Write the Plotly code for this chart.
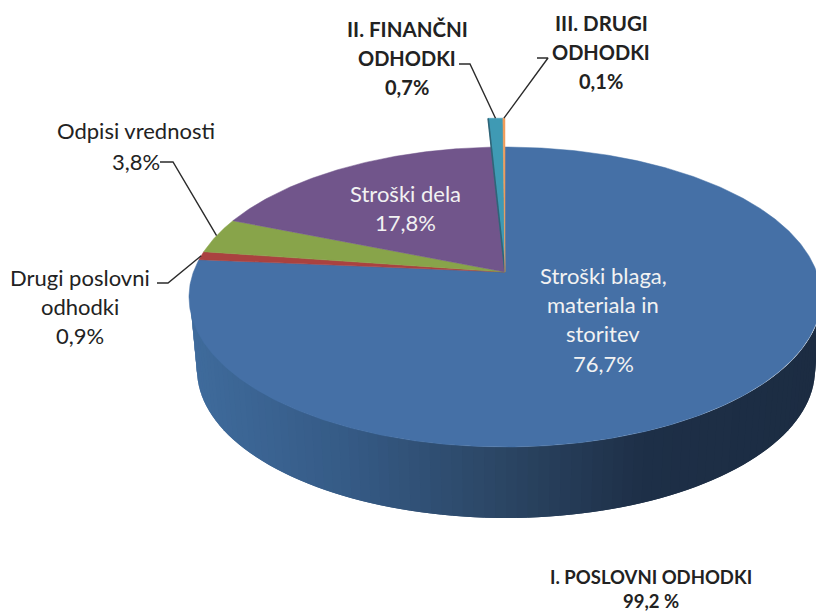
import math
import plotly.graph_objects as go

# ---- data (clockwise from 12 o'clock) ----
slice_names = ["Stroški blaga, materiala in storitev", "Drugi poslovni odhodki", "Odpisi vrednosti",
               "Stroški dela", "II. FINANČNI ODHODKI", "III. DRUGI ODHODKI"]
slice_values = [76.7, 0.9, 3.8, 17.8, 0.7, 0.1]
slice_colors = ["#4570A6", "#AA4240", "#88A44A", "#71558B", "#3F9AB4", "#F09C5A"]
slice_explode = [1.0, 1.0, 1.0, 1.0, 1.28, 1.28]
group_label = ["I. POSLOVNI ODHODKI", "99,2 %"]

# ---- projection of the tilted disc onto the 816x612 page ----
APEX_X, APEX_Y = 505.0, 272.0
K = 1 / 6
A, B = 311.6, 145.83
WARP = 1.2


def project(deg, r=1.0):
    t = math.radians(deg - WARP * abs(math.sin(math.radians(deg))))
    u, v = r * math.sin(t), -r * math.cos(t)
    w = 1 - K * v
    return APEX_X + A * u / w, APEX_Y + B * v / w


fig = go.Figure()

# side wall: shaded strips along the near rim
TOP = (506, 297, 316, 150)
BOT = (506, 370, 309, 148)
stops = [(0.0, (28, 44, 66)), (0.28, (29, 47, 71)), (0.5, (43, 69, 99)), (0.75, (53, 90, 133)), (1.0, (63, 107, 156))]


def shade(f):
    for (f0, c0), (f1, c1) in zip(stops, stops[1:]):
        if f <= f1:
            m = (f - f0) / (f1 - f0)
            return "rgb(%d,%d,%d)" % tuple(round(a + (b - a) * m) for a, b in zip(c0, c1))
    return "rgb(63,107,156)"


N = 90
for i in range(N):
    # each strip runs on under the next one so no seams show
    pts = [min(math.pi * (i + j / 4) / N, math.pi) for j in range(9)]
    xs = [TOP[0] + TOP[2] * math.cos(t) for t in pts] + [BOT[0] + BOT[2] * math.cos(t) for t in reversed(pts)]
    ys = [TOP[1] + TOP[3] * math.sin(t) for t in pts] + [BOT[1] + BOT[3] * math.sin(t) for t in reversed(pts)]
    xs.append(xs[0])
    ys.append(ys[0])
    mx = TOP[0] + TOP[2] * math.cos(math.pi * (i + 0.5) / N)
    col = shade(1 - (mx - 190) / 632)
    fig.add_trace(go.Scatter(x=xs, y=ys, mode="lines", fill="toself", fillcolor=col,
                             line=dict(width=0), hoverinfo="skip", showlegend=False))

# top faces, driven by the values
total = sum(slice_values)
cum = 0.0
mids = []
for name, val, col, ex in zip(slice_names, slice_values, slice_colors, slice_explode):
    a0 = cum / total * 360
    a1 = (cum + val) / total * 360
    cum += val
    n = max(2, int((a1 - a0) * 2))
    xs, ys = [APEX_X], [APEX_Y]
    for j in range(n + 1):
        x, y = project(a0 + (a1 - a0) * j / n, ex)
        xs.append(x)
        ys.append(y)
    xs.append(APEX_X)
    ys.append(APEX_Y)
    mids.append(project((a0 + a1) / 2, ex))
    fig.add_trace(go.Scatter(x=xs, y=ys, mode="lines", fill="toself", fillcolor=col, name=name,
                             line=dict(color=col, width=0.5), hoverinfo="name", showlegend=False))
    if name.startswith("II."):
        # darker cut face along the exploded slice's left edge
        ex0, ey0 = project(a0, ex)
        fig.add_trace(go.Scatter(x=[APEX_X, ex0], y=[APEX_Y, ey0], mode="lines",
                                 line=dict(color="#2F6478", width=1.6), hoverinfo="skip", showlegend=False))

# leader lines: elbow start, elbow end, then the slice's rim midpoint
leaders = {1: ((157, 283), (168, 283)), 2: ((160, 162), (173, 162)),
           4: ((459, 64), (470, 64)), 5: ((537, 58), (548, 58))}
for idx, (p0, p1) in leaders.items():
    fig.add_trace(go.Scatter(x=[p0[0], p1[0], mids[idx][0]], y=[p0[1], p1[1], mids[idx][1]], mode="lines",
                             line=dict(color="#2b2b2b", width=1.4), hoverinfo="skip", showlegend=False))


def pct(i):
    return f"{slice_values[i]:.1f}".replace(".", ",") + "%"


WHITE, DARK = "#F2F2F2", "#222222"
texts = [
    ("Stroški blaga,", 603, 275, False, WHITE, 22), ("materiala in", 603, 304, False, WHITE, 22),
    ("storitev", 603, 333, False, WHITE, 22), (pct(0), 603, 363, False, WHITE, 22),
    ("Stroški dela", 405, 193, False, WHITE, 22), (pct(3), 405, 222, False, WHITE, 22),
    ("Drugi poslovni", 80, 277, False, DARK, 22), ("odhodki", 80, 306, False, DARK, 22), (pct(1), 80, 335, False, DARK, 22),
    ("Odpisi vrednosti", 136, 130, False, DARK, 22), (pct(2), 136, 161, False, DARK, 22),
    ("II. FINANČNI", 407, 29, True, DARK, 20.5), ("ODHODKI", 407, 58, True, DARK, 20), (pct(4), 407, 87, True, DARK, 20),
    ("III. DRUGI", 601, 23, True, DARK, 20.5), ("ODHODKI", 601, 52, True, DARK, 20), (pct(5), 601, 81, True, DARK, 20),
    (group_label[0], 651, 577, True, DARK, 18.5), (group_label[1], 651, 601, True, DARK, 18.5),
]
annotations = [dict(x=x, y=y, text=f"<b>{t}</b>" if b else t, showarrow=False, xanchor="center", yanchor="middle",
                    font=dict(family="Lato", size=s, color=c))
               for t, x, y, b, c, s in texts]

fig.update_layout(width=816, height=612, margin=dict(l=0, r=0, t=0, b=0), paper_bgcolor="white", plot_bgcolor="white",
                  xaxis=dict(range=[0, 816], visible=False, fixedrange=True),
                  yaxis=dict(range=[612, 0], visible=False, fixedrange=True),
                  annotations=annotations, showlegend=False)
fig.write_html("out.html", config={"displayModeBar": False},
               post_script="document.body.style.margin='0';document.body.style.overflow='hidden';")
